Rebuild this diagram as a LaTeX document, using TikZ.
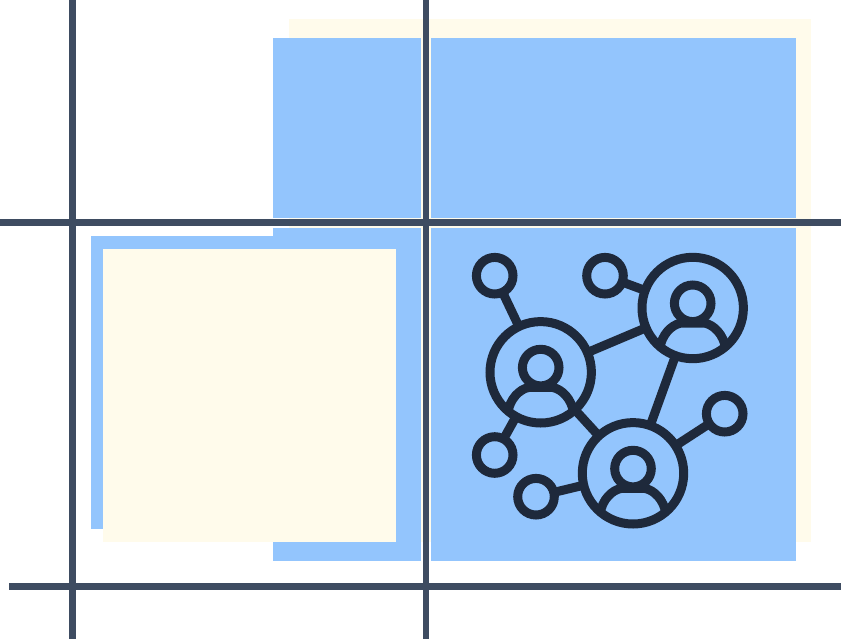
\documentclass[tikz,border=0pt]{standalone}
\definecolor{skyblue}{HTML}{93C5FD}
\definecolor{creamy}{HTML}{FFFBEB}
\definecolor{gridslate}{HTML}{3E4C61}
\definecolor{icondark}{HTML}{1E293B}
\tikzset{
  gridline/.style={draw=gridslate,line width=6.9pt},
  iconline/.style={draw=icondark,line width=9pt},
  bigring/.style={circle,iconline,minimum size=101.4pt,inner sep=0pt,outer sep=0pt},
  smallring/.style={circle,iconline,minimum size=36.6pt,inner sep=0pt,outer sep=0pt},
}
\begin{document}
\begin{tikzpicture}[x=1pt,y=-1pt]
\useasboundingbox (0,0) rectangle (841,640);
\fill[white] (0,0) rectangle (841,640);
% panels
\fill[creamy] (289,19.3) rectangle (811,542);
\fill[skyblue] (273,38) rectangle (421,217.7);
\fill[skyblue] (431,38) rectangle (796,217.7);
\fill[skyblue] (273,227.7) rectangle (421,561);
\fill[skyblue] (431,227.7) rectangle (796,561);
\fill[skyblue] (91,236) rectangle (384,529);
\fill[creamy] (103,249) rectangle (396,542);
% grid
\draw[gridline] (0,222.5) -- (841,222.5);
\draw[gridline] (9,586.5) -- (841,586.5);
\draw[gridline] (72.3,0) -- (72.3,639);
\draw[gridline] (426,0) -- (426,639);
% icon
\node[bigring] (A) at (540.7,372.3) {};
\node[bigring] (B) at (692.7,308) {};
\node[bigring] (C) at (633,473.3) {};
\node[smallring] (D) at (494.7,275.7) {};
\node[smallring] (E) at (605,275.7) {};
\node[smallring] (F) at (494.7,455) {};
\node[smallring] (G) at (536,496.7) {};
\node[smallring] (H) at (724.7,413.7) {};
\node[smallring] (headA) at (540.7,367.6) {};
\node[smallring] (headB) at (692.7,303.3) {};
\node[smallring] (headC) at (633,468.6) {};
\draw[iconline] (D) -- (A);
\draw[iconline] (E) -- (B);
\draw[iconline] (A) -- (B);
\draw[iconline] (B) -- (C);
\draw[iconline] (C) -- (H);
\draw[iconline] (A) -- (C);
\draw[iconline] (A) -- (F);
\draw[iconline] (G) -- (C);
\foreach \n in {A,B,C}{
  \begin{scope}[shift={(\n)}]
    \draw[iconline] (-32,36) .. controls (-28,22) and (-17,15) .. (-10,15)
      -- (10,15) .. controls (17,15) and (28,22) .. (32,36);
  \end{scope}
}
\end{tikzpicture}
\end{document}
